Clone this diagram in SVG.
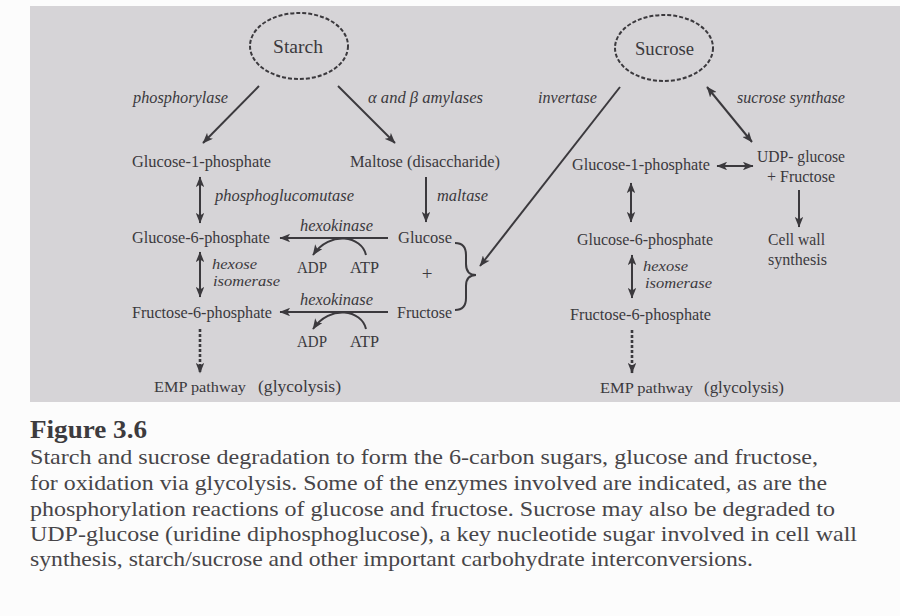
<svg xmlns="http://www.w3.org/2000/svg" width="900" height="616" viewBox="0 0 900 616">
<defs>
<style>
.t{font-family:"Liberation Serif","Times New Roman",serif;fill:#3b393d;font-size:16.5px}
.i{font-style:italic}
.s{font-size:14.5px}
.c{font-family:"Liberation Serif","Times New Roman",serif;fill:#474548;font-size:22px}
.ln{stroke:#3b393d;stroke-width:2;fill:none}
.dash{stroke:#3b393d;stroke-width:2.6;fill:none;stroke-dasharray:3 2}
.ell{fill:none;stroke:#3b393d;stroke-width:2;stroke-dasharray:4 2}
</style>
<marker id="ah" viewBox="0 0 10 8" refX="9.5" refY="4" markerWidth="11" markerHeight="8.5" markerUnits="userSpaceOnUse" orient="auto-start-reverse">
<path d="M0,0 L10,4 L0,8 L2.5,4 z" fill="#3b393d"/>
</marker>
</defs>
<rect x="0" y="0" width="900" height="616" fill="#fcfcfc"/>
<rect x="30" y="6" width="870" height="396" fill="#d6d4d7"/>

<g id="connectors">
<line class="ln" x1="259" y1="86" x2="203" y2="143" marker-end="url(#ah)"/>
<line class="ln" x1="338" y1="86" x2="395" y2="143" marker-end="url(#ah)"/>
<line class="ln" x1="200" y1="177" x2="200" y2="223" marker-start="url(#ah)" marker-end="url(#ah)"/>
<line class="ln" x1="426" y1="177" x2="426" y2="222" marker-end="url(#ah)"/>
<line class="ln" x1="388" y1="238" x2="280" y2="238" marker-end="url(#ah)"/>
<path class="ln" d="M366,255 C362,236 330,230 313,255" marker-end="url(#ah)"/>
<line class="ln" x1="200" y1="252" x2="200" y2="297" marker-start="url(#ah)" marker-end="url(#ah)"/>
<line class="ln" x1="388" y1="312" x2="280" y2="312" marker-end="url(#ah)"/>
<path class="ln" d="M366,329 C362,310 330,304 313,329" marker-end="url(#ah)"/>
<line class="dash" x1="200" y1="329" x2="200" y2="373" marker-end="url(#ah)"/>
<path class="ln" d="M455,243 Q466,243 466,255 L466,264 Q466,275 476,275 Q466,275 466,286 L466,298 Q466,310 455,310"/>
<line class="ln" x1="620" y1="87" x2="480" y2="266" marker-end="url(#ah)"/>
<line class="ln" x1="707" y1="87" x2="752" y2="142" marker-start="url(#ah)" marker-end="url(#ah)"/>
<line class="ln" x1="717" y1="166" x2="753" y2="166" marker-start="url(#ah)" marker-end="url(#ah)"/>
<line class="ln" x1="799" y1="190" x2="799" y2="227" marker-end="url(#ah)"/>
<line class="ln" x1="631" y1="183" x2="631" y2="222" marker-start="url(#ah)" marker-end="url(#ah)"/>
<line class="ln" x1="632" y1="255" x2="632" y2="298" marker-start="url(#ah)" marker-end="url(#ah)"/>
<line class="dash" x1="632" y1="330" x2="632" y2="373" marker-end="url(#ah)"/>
</g>

<g id="labels">
<text class="t i" x="133" y="103" textLength="95" lengthAdjust="spacingAndGlyphs">phosphorylase</text>
<text class="t i" x="368" y="103" textLength="115" lengthAdjust="spacingAndGlyphs">α and β amylases</text>
<text class="t i" x="538" y="103" textLength="59" lengthAdjust="spacingAndGlyphs">invertase</text>
<text class="t i" x="737" y="103" textLength="108" lengthAdjust="spacingAndGlyphs">sucrose synthase</text>
<text class="t i" x="215" y="201" textLength="139" lengthAdjust="spacingAndGlyphs">phosphoglucomutase</text>
<text class="t i" x="437" y="201" textLength="51" lengthAdjust="spacingAndGlyphs">maltase</text>
<text class="t i" x="300" y="231" textLength="73" lengthAdjust="spacingAndGlyphs">hexokinase</text>
<text class="t i" x="300" y="305" textLength="73" lengthAdjust="spacingAndGlyphs">hexokinase</text>
<text class="t i s" x="212" y="269" textLength="45" lengthAdjust="spacingAndGlyphs">hexose</text>
<text class="t i s" x="213" y="286" textLength="67" lengthAdjust="spacingAndGlyphs">isomerase</text>
<text class="t i s" x="643" y="271" textLength="45" lengthAdjust="spacingAndGlyphs">hexose</text>
<text class="t i s" x="645" y="288" textLength="67" lengthAdjust="spacingAndGlyphs">isomerase</text>
<text class="t" x="297" y="273" textLength="30" lengthAdjust="spacingAndGlyphs">ADP</text>
<text class="t" x="350" y="273" textLength="29" lengthAdjust="spacingAndGlyphs">ATP</text>
<text class="t" x="297" y="347" textLength="30" lengthAdjust="spacingAndGlyphs">ADP</text>
<text class="t" x="350" y="347" textLength="29" lengthAdjust="spacingAndGlyphs">ATP</text>
<text class="t" x="427" y="280" text-anchor="middle" style="font-size:19px">+</text>
</g>

<g id="starch">
<ellipse class="ell" cx="299" cy="46" rx="49" ry="33"/>
<text class="t" x="273" y="53" textLength="50" lengthAdjust="spacingAndGlyphs" style="font-size:19px">Starch</text>
</g>
<g id="sucrose">
<ellipse class="ell" cx="664" cy="48" rx="49" ry="33"/>
<text class="t" x="635" y="55" textLength="59" lengthAdjust="spacingAndGlyphs" style="font-size:19px">Sucrose</text>
</g>
<g id="g1p-left"><text class="t" x="132" y="167" textLength="139" lengthAdjust="spacingAndGlyphs">Glucose-1-phosphate</text></g>
<g id="maltose"><text class="t" x="350" y="167" textLength="150" lengthAdjust="spacingAndGlyphs">Maltose (disaccharide)</text></g>
<g id="g6p-left"><text class="t" x="132" y="243" textLength="138" lengthAdjust="spacingAndGlyphs">Glucose-6-phosphate</text></g>
<g id="glucose"><text class="t" x="398" y="243" textLength="54" lengthAdjust="spacingAndGlyphs">Glucose</text></g>
<g id="f6p-left"><text class="t" x="132" y="318" textLength="140" lengthAdjust="spacingAndGlyphs">Fructose-6-phosphate</text></g>
<g id="fructose"><text class="t" x="397" y="318" textLength="55" lengthAdjust="spacingAndGlyphs">Fructose</text></g>
<g id="emp-left">
<text class="t" x="154" y="392" textLength="92" lengthAdjust="spacingAndGlyphs" style="font-size:15px">EMP pathway</text>
<text class="t" x="258" y="392" textLength="83" lengthAdjust="spacingAndGlyphs" style="font-size:17.5px">(glycolysis)</text>
</g>
<g id="g1p-right"><text class="t" x="572" y="170" textLength="138" lengthAdjust="spacingAndGlyphs">Glucose-1-phosphate</text></g>
<g id="udp">
<text class="t" x="757" y="162" textLength="88" lengthAdjust="spacingAndGlyphs">UDP- glucose</text>
<text class="t" x="767" y="182" textLength="68" lengthAdjust="spacingAndGlyphs">+ Fructose</text>
</g>
<g id="cellwall">
<text class="t" x="768" y="245" textLength="57" lengthAdjust="spacingAndGlyphs">Cell wall</text>
<text class="t" x="768" y="265" textLength="59" lengthAdjust="spacingAndGlyphs">synthesis</text>
</g>
<g id="g6p-right"><text class="t" x="577" y="245" textLength="136" lengthAdjust="spacingAndGlyphs">Glucose-6-phosphate</text></g>
<g id="f6p-right"><text class="t" x="570" y="320" textLength="141" lengthAdjust="spacingAndGlyphs">Fructose-6-phosphate</text></g>
<g id="emp-right">
<text class="t" x="600" y="393" textLength="93" lengthAdjust="spacingAndGlyphs" style="font-size:15px">EMP pathway</text>
<text class="t" x="704" y="393" textLength="80" lengthAdjust="spacingAndGlyphs" style="font-size:17.5px">(glycolysis)</text>
</g>

<g id="caption">
<text class="c" x="30" y="438" textLength="117" lengthAdjust="spacingAndGlyphs" style="font-weight:bold;font-size:26px;fill:#3d3b3e">Figure 3.6</text>
<text class="c" x="30" y="464" textLength="788" lengthAdjust="spacingAndGlyphs">Starch and sucrose degradation to form the 6-carbon sugars, glucose and fructose,</text>
<text class="c" x="30" y="490" textLength="797" lengthAdjust="spacingAndGlyphs">for oxidation via glycolysis. Some of the enzymes involved are indicated, as are the</text>
<text class="c" x="30" y="516" textLength="805" lengthAdjust="spacingAndGlyphs">phosphorylation reactions of glucose and fructose. Sucrose may also be degraded to</text>
<text class="c" x="30" y="541" textLength="827" lengthAdjust="spacingAndGlyphs">UDP-glucose (uridine diphosphoglucose), a key nucleotide sugar involved in cell wall</text>
<text class="c" x="30" y="566" textLength="723" lengthAdjust="spacingAndGlyphs">synthesis, starch/sucrose and other important carbohydrate interconversions.</text>
</g>
</svg>
